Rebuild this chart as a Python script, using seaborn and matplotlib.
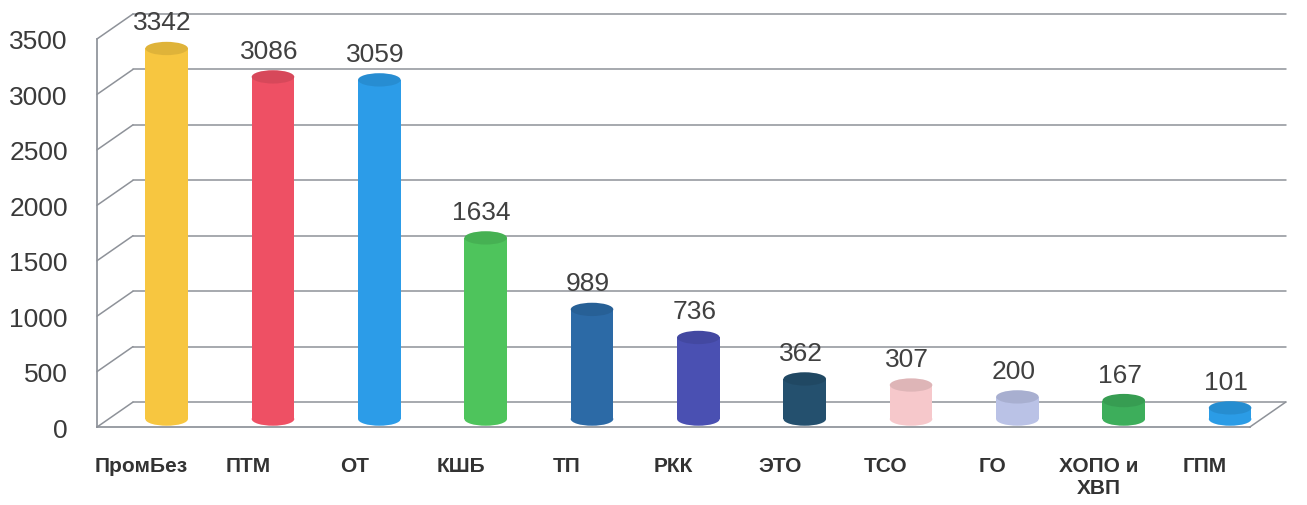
import matplotlib
matplotlib.use("Agg")
import matplotlib.pyplot as plt
import matplotlib.transforms as mtransforms
import seaborn as sns
import pandas as pd
from matplotlib.patches import Ellipse

# data
categories = ['ПромБез', 'ПТМ', 'ОТ', 'КШБ', 'ТП', 'РКК', 'ЭТО', 'ТСО', 'ГО', 'ХОПО и\nХВП', 'ГПМ']
values = [3342, 3086, 3059, 1634, 989, 736, 362, 307, 200, 167, 101]
colors = ['#F7C640', '#EE5064', '#2C9CE8', '#4EC45C', '#2C6AA6', '#4A50B2',
          '#24506E', '#F6C8CB', '#BAC2E6', '#3DAE5B', '#2B9CE6']
yticks = [0, 500, 1000, 1500, 2000, 2500, 3000, 3500]

df = pd.DataFrame({'cat': categories, 'val': values})

sns.set_theme(style='white')
plt.rcParams['font.family'] = ['Liberation Sans Narrow', 'Liberation Sans', 'DejaVu Sans']

fig = plt.figure(figsize=(13.07, 5.06), dpi=100)
ax = fig.add_axes([0.0742, 0.154, 0.882, 0.767])

sns.barplot(data=df, x='cat', y='val', hue='cat', palette=colors, legend=False,
            width=0.4, saturation=1, ax=ax, linewidth=0, zorder=3)

ax.set_ylim(0, 3500)
ax.set_xlim(-0.42, len(categories) - 0.58)
xl0, xl1 = ax.get_xlim()

# pseudo-3D offsets (inches at 100 dpi)
bar_off = ax.transData + mtransforms.ScaledTranslation(0.25, 0.08, fig.dpi_scale_trans)
back = ax.transData + mtransforms.ScaledTranslation(0.36, 0.25, fig.dpi_scale_trans)

# back wall grid + left wall diagonals
line_c = '#8e9299'
grid_kw = dict(color=line_c, lw=1.1, clip_on=False, zorder=0)
diag = dict(arrowstyle='-', color=line_c, lw=1.1, shrinkA=0, shrinkB=0)
for y in yticks:
    ax.plot([xl0, xl1], [y, y], transform=back, **grid_kw)
    ax.annotate('', xy=(xl0, y), xycoords=back, xytext=(xl0, y), textcoords='data',
                arrowprops=diag, annotation_clip=False)
ax.annotate('', xy=(xl1, 0), xycoords=back, xytext=(xl1, 0), textcoords='data',
            arrowprops=diag, annotation_clip=False)

# cylinders
cap_h = 120
for bar, c in zip(ax.patches, colors):
    bar.set_transform(bar_off)
    bar.set_clip_on(False)
    x0, w, h = bar.get_x(), bar.get_width(), bar.get_height()
    cx = x0 + w / 2
    ax.add_patch(Ellipse((cx, 0), w, cap_h, color=c, zorder=2.9, lw=0,
                         transform=bar_off, clip_on=False))
    ax.add_patch(Ellipse((cx, h), w, cap_h, facecolor=c, edgecolor='none',
                         zorder=4, transform=bar_off, clip_on=False))
    ax.add_patch(Ellipse((cx, h), w, cap_h, facecolor='#00000018', edgecolor='none',
                         zorder=4.1, transform=bar_off, clip_on=False))
    lab_tr = mtransforms.offset_copy(bar_off, fig=fig, x=-4, y=26, units='dots')
    ax.text(cx, h, f'{int(h)}', ha='center', va='center', fontsize=19,
            color='#404040', zorder=5, transform=lab_tr, clip_on=False)

ax.set_yticks(yticks)
ax.set_xlabel('')
ax.set_ylabel('')
ax.tick_params(axis='y', labelsize=19, labelcolor='#3a3a3a', pad=21, length=0)
ax.tick_params(axis='x', labelsize=15, labelcolor='#333333', pad=21, length=0)
for lab in ax.get_xticklabels():
    lab.set_fontweight('bold')
    lab.set_verticalalignment('top')
for s in ['top', 'right']:
    ax.spines[s].set_visible(False)
ax.spines['left'].set_color(line_c)
ax.spines['bottom'].set_color(line_c)
ax.spines['left'].set_zorder(0)
ax.spines['bottom'].set_zorder(0)

fig.savefig('out.png', dpi=100, facecolor='white')
